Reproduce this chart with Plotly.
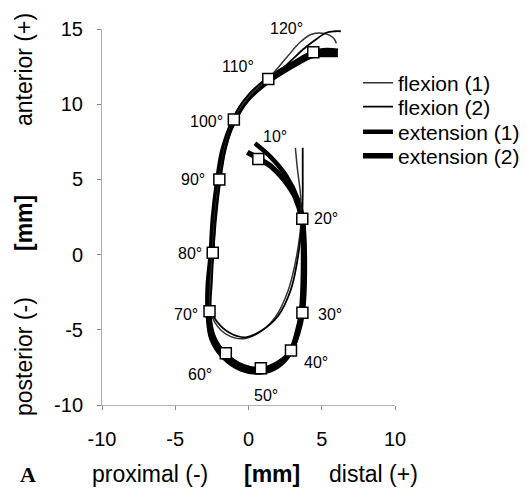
import plotly.graph_objects as go

# ---- data (mm) ----
flex1_x = [3.2, 3.35, 3.55, 3.6, 3.3, 2.7, 1.8, 0.7, -0.4, -1.5, -2.3, -2.6, -2.6, -2.45, -2.3, -2.0, -1.6, -1.0, 0.1, 1.35, 2.6, 3.5, 4.3, 5.2, 5.8, 6.0]
flex1_y = [7.1, 5.6, 4.0, 2.4, 0.0, -2.4, -4.2, -5.2, -5.6, -5.3, -4.5, -3.7, -1.8, 0.1, 2.5, 5.0, 7.2, 9.0, 10.6, 11.7, 13.1, 14.1, 14.65, 14.7, 14.4, 14.05]

flex2_x = [3.7, 3.7, 3.7, 3.65, 3.4, 2.9, 2.0, 0.9, -0.2, -1.3, -2.2, -2.55, -2.5, -2.4, -2.25, -1.95, -1.55, -0.95, 0.2, 1.4, 2.8, 3.8, 4.6, 5.3, 5.9, 6.3]
flex2_y = [7.1, 5.6, 4.0, 2.4, 0.0, -2.3, -4.1, -5.05, -5.5, -5.2, -4.4, -3.7, -1.8, 0.1, 2.5, 5.0, 7.2, 9.0, 10.5, 11.6, 12.8, 13.7, 14.3, 14.75, 14.85, 14.85]

ext1_x = [6.1, 5.3, 4.4, 3.0, 1.35, 0.0, -1.0, -1.65, -2.0, -2.3, -2.5, -2.7, -2.7, -2.4, -1.6, -0.4, 0.85, 2.0, 2.9, 3.4, 3.7, 3.85, 3.7, 3.4, 2.6, 1.5, 0.44]
ext1_y = [13.55, 13.6, 13.45, 12.7, 11.7, 10.5, 9.0, 7.0, 5.0, 2.5, 0.1, -2.0, -3.8, -5.4, -6.6, -7.4, -7.6, -7.2, -6.4, -5.2, -3.9, -1.0, 2.4, 3.6, 5.2, 6.5, 7.4]

ext2_x = [6.1, 5.2, 4.4, 2.9, 1.3, -0.1, -1.05, -1.75, -2.1, -2.4, -2.55, -2.75, -2.75, -2.5, -1.7, -0.5, 0.8, 2.0, 2.85, 3.3, 3.6, 3.75, 3.65, 3.2, 2.4, 1.5, 0.67, -0.08]
ext2_y = [13.3, 13.3, 13.25, 12.5, 11.5, 10.3, 8.8, 6.9, 4.9, 2.4, 0.0, -2.1, -3.9, -5.6, -6.8, -7.6, -7.8, -7.4, -6.5, -5.3, -3.9, -1.0, 2.3, 3.8, 5.0, 5.9, 6.4, 6.8]

angle_labels = ["10°", "20°", "30°", "40°", "50°", "60°", "70°", "80°", "90°", "100°", "110°", "120°"]
angle_x = [0.67, 3.67, 3.68, 2.9, 0.84, -1.55, -2.66, -2.44, -1.99, -1.0, 1.35, 4.42]
angle_y = [6.36, 2.39, -3.87, -6.38, -7.56, -6.56, -3.76, 0.13, 5.0, 8.98, 11.68, 13.45]

x_ticks = [-10, -5, 0, 5, 10]
x_ticktext = ["-10", "-5", "0", "5", "10"]
y_ticks = [-10, -5, 0, 5, 10, 15]
y_ticktext = ["-10", "-5", "0", "5", "10", "15"]

# label offsets in pixels (dx, dy up)
label_offsets = [(17, 22), (24, 0), (28, -2), (25, -12), (5, -27), (-26, -21),
                 (-24, -3), (-23, -1), (-26, 0), (-27, -2), (-30, 12), (-27, 24)]

FONT = "Liberation Sans, Arial, sans-serif"

# the page has an 8px body margin; work in window pixels and compensate
OFF = 8
W, H = 529 - OFF, 488 - OFF
ml, mr, mt, mb = 102 - OFF, 134, 29 - OFF, 83

fig = go.Figure()
fig.add_trace(go.Scatter(x=ext1_x, y=ext1_y, mode="lines", name="extension (1)",
                         line=dict(color="black", width=4.5, shape="spline", smoothing=1.0),
                         legend="legend3"))
fig.add_trace(go.Scatter(x=ext2_x, y=ext2_y, mode="lines", name="extension (2)",
                         line=dict(color="black", width=5.5, shape="spline", smoothing=1.0),
                         legend="legend4"))
fig.add_trace(go.Scatter(x=flex1_x, y=flex1_y, mode="lines", name="flexion (1)",
                         line=dict(color="#333333", width=1.5, shape="spline", smoothing=1.0),
                         legend="legend"))
fig.add_trace(go.Scatter(x=flex2_x, y=flex2_y, mode="lines", name="flexion (2)",
                         line=dict(color="black", width=1.8, shape="spline", smoothing=1.0),
                         legend="legend2"))
fig.add_trace(go.Scatter(x=angle_x, y=angle_y, mode="markers", showlegend=False,
                         marker=dict(symbol="square", size=11, color="white",
                                     line=dict(color="black", width=1.5)),
                         hoverinfo="skip"))

annotations = []
for lab, ax_, ay_, (dx, dy) in zip(angle_labels, angle_x, angle_y, label_offsets):
    annotations.append(dict(x=ax_, y=ay_, text=lab, showarrow=False, xshift=dx, yshift=dy,
                            font=dict(family=FONT, size=16, color="black")))


def px2paper(xpx, ypx):
    # xpx, ypx in window pixels
    xf, yf = xpx - OFF, ypx - OFF
    return (xf - ml) / (W - ml - mr), 1 - (yf - mt) / (H - mt - mb)


def pann(text, xpx, ypx, size=23, angle=0, bold=False, family=FONT):
    px, py = px2paper(xpx, ypx)
    t = "<b>%s</b>" % text if bold else text
    return dict(text=t, x=px, y=py, xref="paper", yref="paper",
                showarrow=False, textangle=angle, xanchor="center", yanchor="middle",
                font=dict(family=family, size=size, color="black"))


annotations += [
    pann("anterior (+)", 24, 70, angle=-90),
    pann("[mm]", 24, 223, angle=-90, bold=True),
    pann("posterior (-)", 24, 357, angle=-90),
    pann("proximal (-)", 150, 474),
    pann("[mm]", 272, 474, bold=True),
    pann("distal (+)", 373, 474),
    pann("A", 28, 474, size=22, bold=True, family="Liberation Serif, Times New Roman, serif"),
]

legend_rows_px = [83, 107, 132, 156]
legends = {}
for i, ypx in enumerate(legend_rows_px):
    lx, ly = px2paper(358, ypx)
    key = "legend" if i == 0 else "legend%d" % (i + 1)
    legends[key] = dict(x=lx, y=ly, xanchor="left", yanchor="middle",
                        bgcolor="rgba(0,0,0,0)", itemwidth=30,
                        font=dict(family=FONT, size=21, color="black"))

fig.update_layout(
    width=W, height=H,
    margin=dict(l=ml, r=mr, t=mt, b=mb, pad=0, autoexpand=False),
    paper_bgcolor="white", plot_bgcolor="white",
    font=dict(family=FONT, size=20, color="black"),
    showlegend=True,
    annotations=annotations,
    **legends,
)
fig.update_xaxes(range=[-10, 10], tickvals=x_ticks, ticktext=x_ticktext,
                 showgrid=False, zeroline=False,
                 showline=True, linecolor="#b0b0b0", linewidth=1,
                 ticks="outside", ticklen=4, tickcolor="#888", ticklabelstandoff=12,
                 tickfont=dict(size=20))
fig.update_yaxes(range=[-10, 15], tickvals=y_ticks, ticktext=y_ticktext,
                 showgrid=False, zeroline=False,
                 showline=True, linecolor="#b0b0b0", linewidth=1,
                 ticks="outside", ticklen=4, tickcolor="#888", ticklabelstandoff=10,
                 tickfont=dict(size=20))

fig.write_html("out.html")
